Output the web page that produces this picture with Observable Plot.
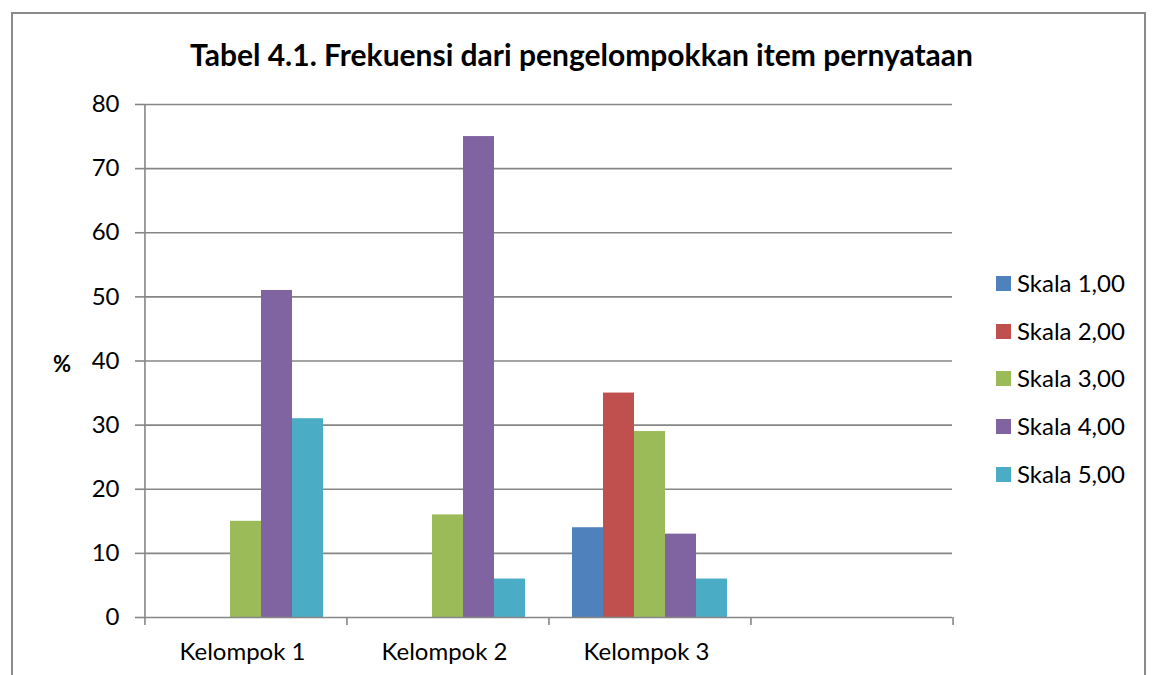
<!DOCTYPE html>
<html>
<head>
<meta charset="utf-8">
<script src="https://cdn.jsdelivr.net/npm/d3@7"></script>
<script src="https://cdn.jsdelivr.net/npm/@observablehq/plot@0.6"></script>
<style>
  html, body { margin: 0; padding: 0; background: #fff; overflow: hidden; }
  #wrap { position: relative; width: 1157px; height: 675px; font-family: Lato, "Open Sans", sans-serif; }
  #frame { position: absolute; left: 11px; top: 12px; width: 1135px; height: 720px; border: 2px solid #8a8a8a; box-sizing: border-box; }
  #title { position: absolute; left: 0; width: 1163px; top: 36px; text-align: center; font-weight: bold; font-size: 30px; line-height: 36px; color: #000; }
  #chart { position: absolute; left: 0; top: 0; }
  #legend { position: absolute; left: 996px; top: 268px; }
  .item { position: relative; height: 47.7px; }
  .sw { position: absolute; left: 0; top: 8px; width: 15px; height: 15px; }
  .lab { position: absolute; left: 21px; top: 0; font-size: 24px; line-height: 30px; color: #000; white-space: nowrap; }
  #ylab { position: absolute; left: 53px; top: 349px; font-weight: bold; font-size: 22px; line-height: 30px; }
</style>
</head>
<body>
<div id="wrap">
  <div id="frame"></div>
  <div id="chart"></div>
  <div id="title">Tabel 4.1. Frekuensi dari pengelompokkan item pernyataan</div>
  <div id="ylab">%</div>
  <div id="legend"></div>
</div>
<script>
const groups = ["Kelompok 1", "Kelompok 2", "Kelompok 3", ""];
const series = ["Skala 1,00", "Skala 2,00", "Skala 3,00", "Skala 4,00", "Skala 5,00"];
const skala1 = [0, 0, 14];
const skala2 = [0, 0, 35];
const skala3 = [15, 16, 29];
const skala4 = [51, 75, 13];
const skala5 = [31, 6, 6];
const colors = ["#4F81BD", "#C0504D", "#9BBB59", "#8064A2", "#4BACC6"];
const yTicks = [0, 10, 20, 30, 40, 50, 60, 70, 80];

const valuesBySeries = [skala1, skala2, skala3, skala4, skala5];
const data = [];
series.forEach((s, si) => {
  valuesBySeries[si].forEach((v, gi) => data.push({group: groups[gi], series: s, value: v}));
});

const W = 1157, H = 675, mL = 143, mR = 205, mT = 104, mB = 58;
const padOuter = 0.758;
const fxBand = (W - mL - mR) / groups.length;
const step = fxBand / (series.length + 2 * padOuter);
const edge = step * (padOuter + 0.5); // from first/last bar centre to facet edge
const grey = "#868686";

const chart = Plot.plot({
  width: W, height: H,
  marginLeft: mL, marginRight: mR, marginTop: mT, marginBottom: mB,
  style: {fontFamily: "Lato, 'Open Sans', sans-serif", background: "transparent"},
  fx: {domain: groups, padding: 0, axis: null},
  x: {domain: series, paddingInner: 0, paddingOuter: padOuter, axis: null},
  y: {domain: [0, 80], axis: null},
  color: {domain: series, range: colors},
  marks: [
    Plot.gridY(yTicks.filter(d => d > 0), {stroke: grey, strokeOpacity: 1, strokeWidth: 1.6}),
    Plot.barY(data, {fx: "group", x: "series", y: "value", fill: "series"}),
    Plot.ruleY([0], {stroke: grey, strokeWidth: 1.6}),
    // y axis line
    Plot.ruleX([groups[0]], {fx: d => d, x: () => series[0], y1: 0, y2: 80, dx: -edge, stroke: grey, strokeWidth: 1.6}),
    // category boundary ticks
    Plot.ruleX(groups, {fx: d => d, x: () => series[0], y1: 0, y2: 0, insetBottom: -8, dx: -edge, stroke: grey, strokeWidth: 1.6}),
    Plot.ruleX([groups[groups.length - 1]], {fx: d => d, x: () => series[series.length - 1], y1: 0, y2: 0, insetBottom: -8, dx: edge, stroke: grey, strokeWidth: 1.6}),
    Plot.axisY({ticks: yTicks, tickSize: 9, tickPadding: 16, fontSize: 24, stroke: grey, strokeWidth: 1.6, fill: "black", label: null}),
    Plot.axisFx({anchor: "bottom", tickSize: 0, tickPadding: 25, fontSize: 24, fill: "black", label: null, dx: -3})
  ]
});
document.getElementById("chart").appendChild(chart);

const legend = document.getElementById("legend");
series.forEach((s, i) => {
  const item = document.createElement("div");
  item.className = "item";
  item.innerHTML = `<div class="sw" style="background:${colors[i]}"></div><div class="lab">${s}</div>`;
  legend.appendChild(item);
});
</script>
</body>
</html>
